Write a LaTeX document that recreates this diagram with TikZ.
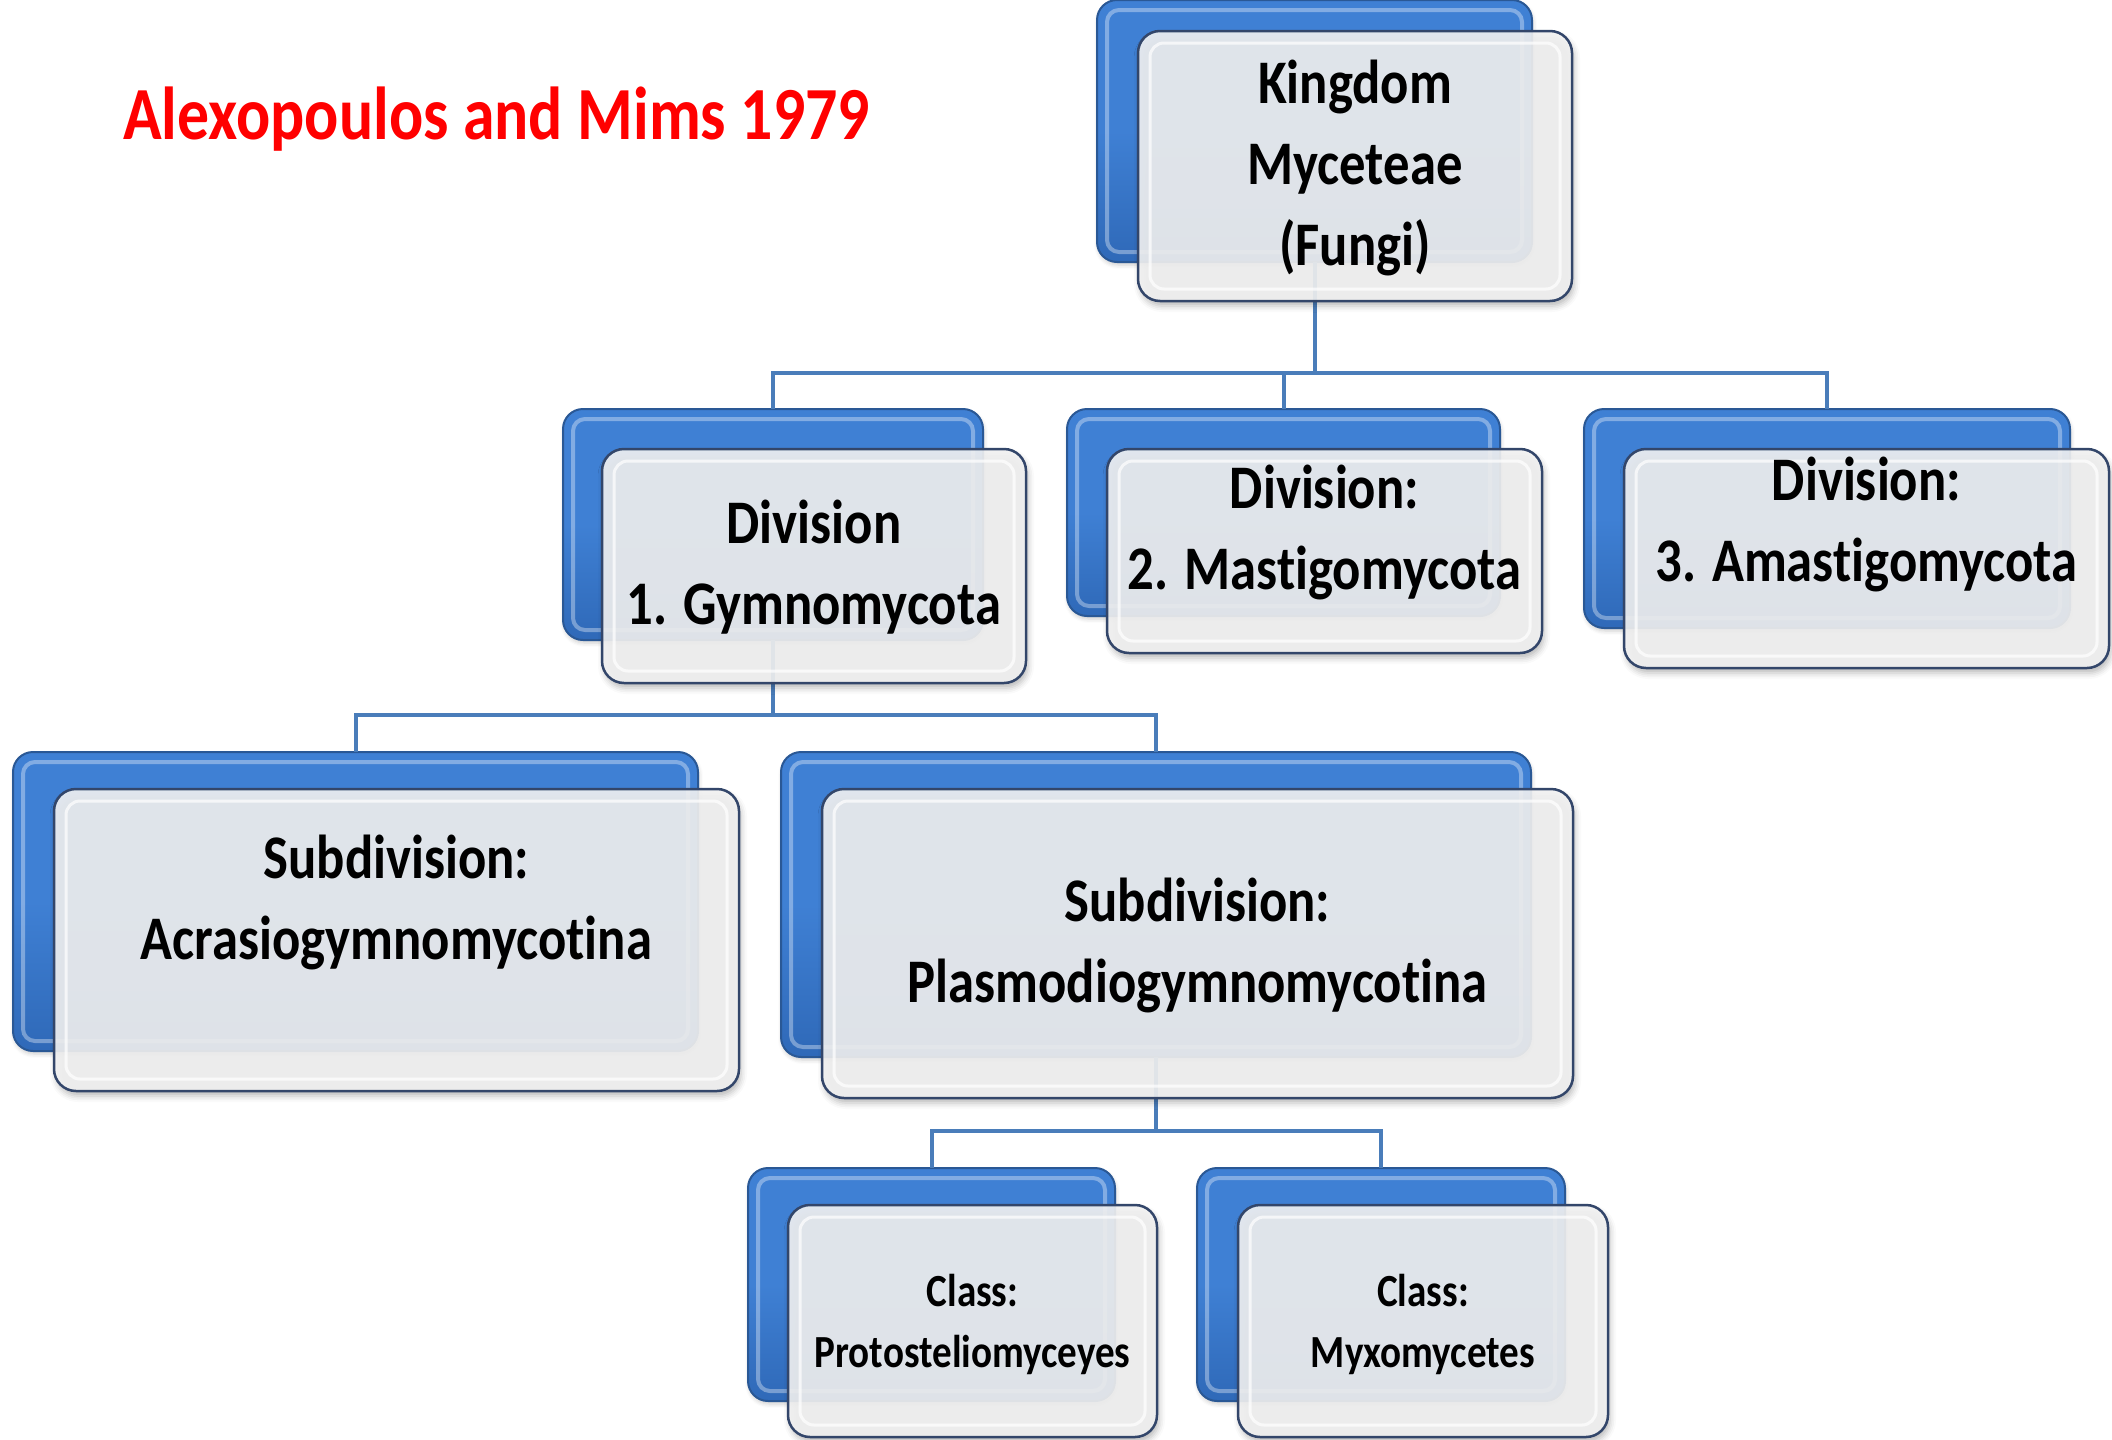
\documentclass[tikz,border=0pt]{standalone}
\usepackage{fontspec}
\setmainfont{Carlito}[FakeStretch=0.85, Ligatures=NoCommon, RawFeature={-liga;-calt;-dlig}]
\usetikzlibrary{calc,shadows.blur}

\definecolor{boxblue}{HTML}{3F80D4}
\definecolor{boxbluedark}{HTML}{2F69B8}
\definecolor{boxedge}{HTML}{2A5895}
\definecolor{cardfill}{HTML}{F3F3F3}
\definecolor{cardedge}{HTML}{33466A}
\definecolor{linkblue}{HTML}{4A7DBA}

% keeps "t" and "i" apart as two separate glyphs
\newcommand\ti{t\kern0pt i}

\tikzset{
  backbox/.style={draw=boxedge, line width=2pt, rounded corners=20pt,
    top color=boxblue, bottom color=boxbluedark, middle color=boxblue,
    inner sep=0pt, outer sep=0pt,
    blur shadow={shadow xshift=1pt, shadow yshift=-3pt, shadow blur radius=4pt, shadow opacity=20},
    path picture={\draw[white, opacity=0.35, line width=4pt, rounded corners=12pt]
      ([shift={(10pt,-10pt)}]path picture bounding box.north west) rectangle
      ([shift={(-10pt,10pt)}]path picture bounding box.south east);}},
  card/.style={draw=cardedge, line width=2.5pt, rounded corners=22pt,
    fill=cardfill, fill opacity=0.9, inner sep=0pt, outer sep=0pt,
    blur shadow={shadow xshift=2pt, shadow yshift=-5pt, shadow blur radius=6pt, shadow opacity=30},
    path picture={\draw[white, opacity=0.7, line width=3pt, rounded corners=14pt]
      ([shift={(12pt,-12pt)}]path picture bounding box.north west) rectangle
      ([shift={(-12pt,12pt)}]path picture bounding box.south east);}},
  link/.style={draw=linkblue, line width=4pt},
  cardtext/.style={align=center, inner sep=0pt, text=black,
    font=\bfseries\fontsize{62}{81}\selectfont},
  classtext/.style={align=center, inner sep=0pt, text=black,
    font=\bfseries\fontsize{46}{61}\selectfont},
}

% box from (left,top) to (right,bottom), in picture units
\newcommand\placebox[6]{%
  \node[#1, minimum width={#5-#3}, minimum height={#6-#4}] (#2)
    at ({(#3+#5)/2},{(#4+#6)/2}) {};}

\begin{document}
\begin{tikzpicture}[x=1pt, y=-1pt]
\useasboundingbox (0,0) rectangle (2112,1440);
\clip (0,0) rectangle (2112,1440);

% rear blue plates
\placebox{backbox}{kb}{1097}{0}{1532}{262}
\placebox{backbox}{d1b}{563}{409}{983}{640}
\placebox{backbox}{d2b}{1067}{409}{1500}{616}
\placebox{backbox}{d3b}{1584}{409}{2070}{628}
\placebox{backbox}{sab}{13}{752}{698}{1051}
\placebox{backbox}{spb}{781}{752}{1531}{1057}
\placebox{backbox}{c1b}{748}{1168}{1115}{1401}
\placebox{backbox}{c2b}{1197}{1168}{1565}{1401}

% tree connectors
\coordinate (busK) at (0,373);
\coordinate (busD) at (0,715);
\coordinate (busS) at (0,1131);
\draw[link] (kb.south) -- (kb.south |- busK) -| (d1b.north);
\draw[link] (kb.south |- busK) -| (d2b.north);
\draw[link] (kb.south |- busK) -| (d3b.north);
\draw[link] (d1b.south) -- (d1b.south |- busD) -| (sab.north);
\draw[link] (d1b.south |- busD) -| (spb.north);
\draw[link] (spb.south) -- (spb.south |- busS) -| (c1b.north);
\draw[link] (spb.south |- busS) -| (c2b.north);

% front cards
\placebox{card}{kf}{1138}{31}{1572}{301}
\placebox{card}{d1f}{602}{449}{1026}{683}
\placebox{card}{d2f}{1107}{449}{1542}{653}
\placebox{card}{d3f}{1624}{449}{2109}{668}
\placebox{card}{saf}{54}{789}{739}{1091}
\placebox{card}{spf}{822}{789}{1573}{1098}
\placebox{card}{c1f}{788}{1205}{1157}{1437}
\placebox{card}{c2f}{1238}{1205}{1608}{1437}

% labels
\node[cardtext] (kt) at (kf.center |- 0,168) {Kingdom\\Myceteae\\(Fungi)};
\node[cardtext] (d1t) at (d1f.center |- 0,567) {Division\\1. Gymnomycota};
\node[cardtext] (d2t) at (d2f.center |- 0,532) {Division:\\2. Mas\ti gomycota};
\node[cardtext] (d3t) at (d3f.center |- 0,524) {Division:\\3. Amas\ti gomycota};
\node[cardtext] (sat) at (saf.center |- 0,902) {Subdivision:\\Acrasiogymnomyco\ti na};
\node[cardtext] (spt) at (spf.center |- 0,945) {Subdivision:\\Plasmodiogymnomyco\ti na};
\node[classtext] (c1t) at (c1f.center |- 0,1324) {Class:\\Protosteliomyceyes};
\node[classtext] (c2t) at (c2f.center |- 0,1324) {Class:\\Myxomycetes};

\node[anchor=west, inner sep=0pt, text=red,
  font=\bfseries\fontsize{75}{90}\selectfont] (title) at (123,119)
  {Alexopoulos and Mims 1979};
\end{tikzpicture}
\end{document}
